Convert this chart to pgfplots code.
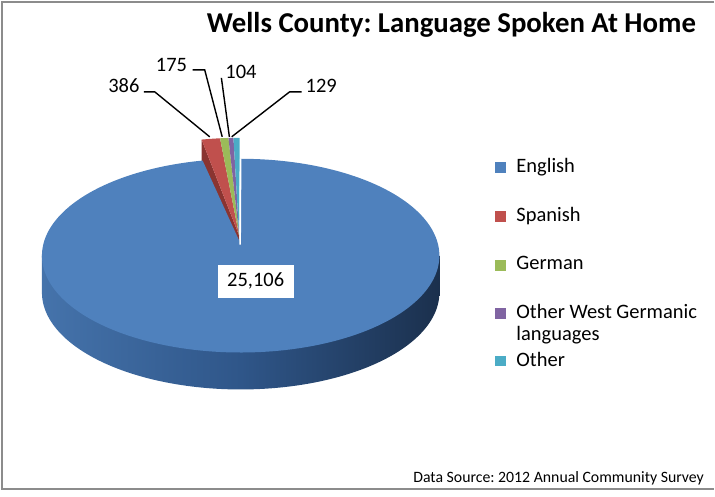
\documentclass[border=0pt]{standalone}
\usepackage{fontspec}
\setmainfont{Carlito}
\usepackage{pgfplots}
\pgfplotsset{compat=1.18}
\frenchspacing

\definecolor{english}{HTML}{4F81BD}
\definecolor{spanish}{HTML}{C0504D}
\definecolor{german}{HTML}{9BBB59}
\definecolor{owg}{HTML}{8064A2}
\definecolor{other}{HTML}{4BACC6}
\definecolor{sideL}{HTML}{4573AB}
\definecolor{sideM}{HTML}{2F5689}
\definecolor{sideR}{HTML}{1B304D}
\definecolor{spanishdark}{HTML}{8A3431}
\definecolor{framegray}{HTML}{8C8C8C}

% language counts
\def\vEnglish{25106}
\def\vSpanish{386}
\def\vGerman{175}
\def\vOWG{104}
\def\vOther{129}
\edef\total{\fpeval{\vEnglish+\vSpanish+\vGerman+\vOWG+\vOther}}
% slice boundaries, clockwise from the top
\edef\aA{450}
\edef\aB{\fpeval{round(\aA-360*\vEnglish/\total,4)}}
\edef\aC{\fpeval{round(\aB-360*\vSpanish/\total,4)}}
\edef\aD{\fpeval{round(\aC-360*\vGerman/\total,4)}}
\edef\aE{\fpeval{round(\aD-360*\vOWG/\total,4)}}
\edef\aF{\fpeval{round(\aE-360*\vOther/\total,4)}}

\tikzset{
  lbl/.style={font=\fontsize{17.5}{21}\selectfont,anchor=base},
  leg/.style={font=\fontsize{17.5}{21}\selectfont,anchor=base west},
  leader/.style={black,line width=1.2pt}
}

\begin{document}
\begin{tikzpicture}
\begin{axis}[
  scale only axis,width=21.45cm,height=14.91cm,
  xmin=0,xmax=715,ymin=0,ymax=497,y dir=reverse,
  hide axis,clip=false,enlargelimits=false
]
\path (0,0) rectangle (715,497);
% frame
\draw[framegray,line width=1.7pt] (715,2) -- (2,2) -- (2,490) -- (715,490);

% side of the pie
\addplot[draw=none,left color=sideL,right color=sideR,middle color=sideM,
  domain=180:360,samples=120,variable=\t]
  ({241+199*cos(\t)},{293-97*sin(\t)}) -- (440,256) -- (42,256) -- cycle;

% cut face of the pulled-out slices
\fill[spanishdark] (202,140) -- (239.5,236) -- (240,252) -- (202,172) -- cycle;

% English (top face)
\addplot[draw=none,fill=english,domain=\aB:\aA,samples=240,variable=\t]
  ({241+199*cos(\t)},{256-97*sin(\t)}) -- (240,242) -- cycle;

% pulled-out small slices
\addplot[draw=none,fill=spanish,domain=\aC:\aB,samples=12,variable=\t]
  ({240+199*cos(\t)},{235-97*sin(\t)}) -- (239.5,236) -- cycle;
\addplot[draw=none,fill=german,domain=\aD:\aC,samples=8,variable=\t]
  ({240+199*cos(\t)},{235-97*sin(\t)}) -- (239.5,236) -- cycle;
\addplot[draw=none,fill=owg,domain=\aE:\aD,samples=6,variable=\t]
  ({240+199*cos(\t)},{235-97*sin(\t)}) -- (239.5,236) -- cycle;
\addplot[draw=none,fill=other,domain=\aF:\aE,samples=6,variable=\t]
  ({240+199*cos(\t)},{235-97*sin(\t)}) -- (239.5,236) -- cycle;
\draw[white,line width=1.3pt] (241,159) -- (240.5,245);

% leader lines and labels
\addplot[leader] coordinates {(144,92) (155,92) (210,137)};
\addplot[leader] coordinates {(193,70) (205,70) (222.5,137)};
\addplot[leader] coordinates {(221.7,78) (229.7,137)};
\addplot[leader] coordinates {(302,92) (290,92) (232,137)};
\node[lbl] at (124,93) {386};
\node[lbl] at (171.7,71.5) {175};
\node[lbl] at (241.3,79) {104};
\node[lbl] at (321.7,93) {129};
\node[fill=white,minimum width=2.28cm,minimum height=0.99cm,inner sep=0pt,
  font=\fontsize{17.5}{21}\selectfont] at (256,281.5) {25,106};

% title and source
\node[font=\fontsize{24.6}{28}\selectfont\bfseries,anchor=base] at (452,33)
  {Wells County: Language Spoken At Home};
\node[font=\fontsize{13.5}{16}\selectfont,anchor=base east] at (709,483)
  {Data Source: 2012 Annual Community Survey};

% legend
\fill[english] (496,162) rectangle (507,173);
\fill[spanish] (496,211) rectangle (507,222);
\fill[german] (496,260) rectangle (507,271);
\fill[owg] (496,308) rectangle (507,319);
\fill[other] (496,356) rectangle (507,367);
\node[leg] at (513,173) {English};
\node[leg] at (513,222) {Spanish};
\node[leg] at (513,270) {German};
\node[leg] at (513,319) {Other West Germanic};
\node[leg] at (513,341) {languages};
\node[leg] at (513,367) {Other};
\end{axis}
\end{tikzpicture}
\end{document}
